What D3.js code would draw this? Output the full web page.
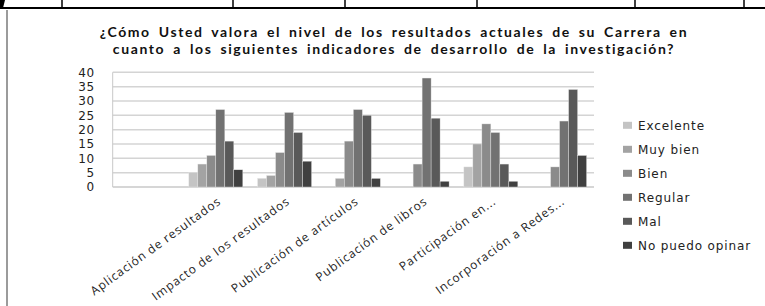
<!DOCTYPE html>
<html>
<head>
<meta charset="utf-8">
<script src="https://cdn.jsdelivr.net/npm/d3@7"></script>
<style>
body{margin:0;background:#fff;}
svg{display:block;}
</style>
</head>
<body>
<script>
let categorias=["","Aplicación de resultados","Impacto de los resultados","Publicación de artículos","Publicación de libros","Participación en...","Incorporación a Redes..."];
let series=["Excelente","Muy bien","Bien","Regular","Mal","No puedo opinar"];
let excelente=[0,5,3,0,0,7,0];
let muyBien=[0,8,4,3,0,15,0];
let bien=[0,11,12,16,8,22,7];
let regular=[0,27,26,27,38,19,23];
let mal=[0,16,19,25,24,8,34];
let noPuedo=[0,6,9,3,2,2,11];
let yTicks=[0,5,10,15,20,25,30,35,40];
let grises=["#c4c4c4","#a3a3a3","#8b8b8b","#727272","#595959","#404040"];
let titulo=["¿Cómo Usted valora el nivel de los resultados actuales de su Carrera en","cuanto a los siguientes indicadores de desarrollo de la investigación?"];

let valores=[excelente,muyBien,bien,regular,mal,noPuedo];

let w=765,h=306;
let svg=d3.select("body").append("svg").attr("width",w).attr("height",h);

// bordes de la tabla de arriba
svg.append("line").attr("x1",0).attr("x2",w).attr("y1",8).attr("y2",8).attr("stroke","#000").attr("stroke-width",2);
[62,233,345,477,635,744].forEach(x=>{
  svg.append("line").attr("x1",x).attr("x2",x).attr("y1",0).attr("y2",8).attr("stroke","#000").attr("stroke-width",1.5);
});
svg.append("path").attr("d","M0,0 L5,0 L3,8 L0,8 Z").attr("fill","#000");
svg.append("line").attr("x1",7).attr("x2",7).attr("y1",10).attr("y2",h).attr("stroke","#7a7a7a").attr("stroke-width",1.5);

// titulo
svg.selectAll(".tit").data(titulo).enter().append("text")
  .attr("x",394).attr("y",(d,i)=>37+i*17)
  .attr("text-anchor","middle")
  .style("font","bold 14px Lato").attr("letter-spacing","1.6px").attr("word-spacing","3px").attr("fill","#111")
  .text(d=>d);

let x0=d3.scaleBand().domain(categorias).range([112.7,594]).paddingInner(0.215).paddingOuter(0.1075);
let x1=d3.scaleBand().domain(series).range([0,x0.bandwidth()]);
let y=d3.scaleLinear().domain([0,40]).range([187,72.3]);

// rejilla
svg.append("g").selectAll("line").data(yTicks.filter(t=>t>0)).enter().append("line")
  .attr("x1",112.7).attr("x2",594).attr("y1",d=>y(d)).attr("y2",d=>y(d))
  .attr("stroke","#d4d4d4").attr("stroke-width",1.5);

let yAxis=d3.axisLeft(y).tickValues(yTicks).tickSize(0).tickPadding(0);
let gy=svg.append("g").attr("transform","translate(95,0)").call(yAxis);
gy.select(".domain").remove();
gy.selectAll("text").style("font","12px 'DejaVu Sans'").attr("fill","#222").attr("letter-spacing","0.8px");

svg.append("line").attr("x1",112.7).attr("x2",112.7).attr("y1",72.3).attr("y2",187).attr("stroke","#c8c8c8");
svg.append("line").attr("x1",112.7).attr("x2",594).attr("y1",187).attr("y2",187).attr("stroke","#c8c8c8").attr("stroke-width",1.5);

// barras
let grupos=svg.append("g").selectAll("g").data(categorias).enter().append("g")
  .attr("transform",d=>"translate("+x0(d)+",0)");
grupos.selectAll("rect").data((d,i)=>series.map((s,j)=>({s:s,v:valores[j][i]}))).enter().append("rect")
  .attr("x",d=>x1(d.s)).attr("width",x1.bandwidth())
  .attr("y",d=>y(d.v)).attr("height",d=>187-y(d.v))
  .attr("fill",(d,j)=>grises[j])
  .attr("stroke","#e6e6e6").attr("stroke-width",0.4);

// etiquetas eje x
let xAxis=d3.axisBottom(x0).tickSize(0).tickPadding(0);
let gx=svg.append("g").attr("transform","translate(0,187)").call(xAxis);
gx.select(".domain").remove();
gx.selectAll("text")
  .style("font","12px 'Open Sans'").attr("letter-spacing","0.9px").attr("fill","#222")
  .style("text-anchor","end")
  .attr("dy",0)
  .attr("transform","translate(6,16) rotate(-36)");

// leyenda
let ley=svg.append("g").selectAll("g").data(series).enter().append("g")
  .attr("transform",(d,i)=>"translate(623,"+(125.3+i*24)+")");
ley.append("rect").attr("x",0).attr("y",-3.5).attr("width",9).attr("height",7).attr("fill",(d,i)=>grises[i]);
ley.append("text").attr("x",15).attr("y",4.5).style("font","12px 'DejaVu Sans'").attr("letter-spacing","0.9px").attr("fill","#222").text(d=>d);
</script>
</body>
</html>
